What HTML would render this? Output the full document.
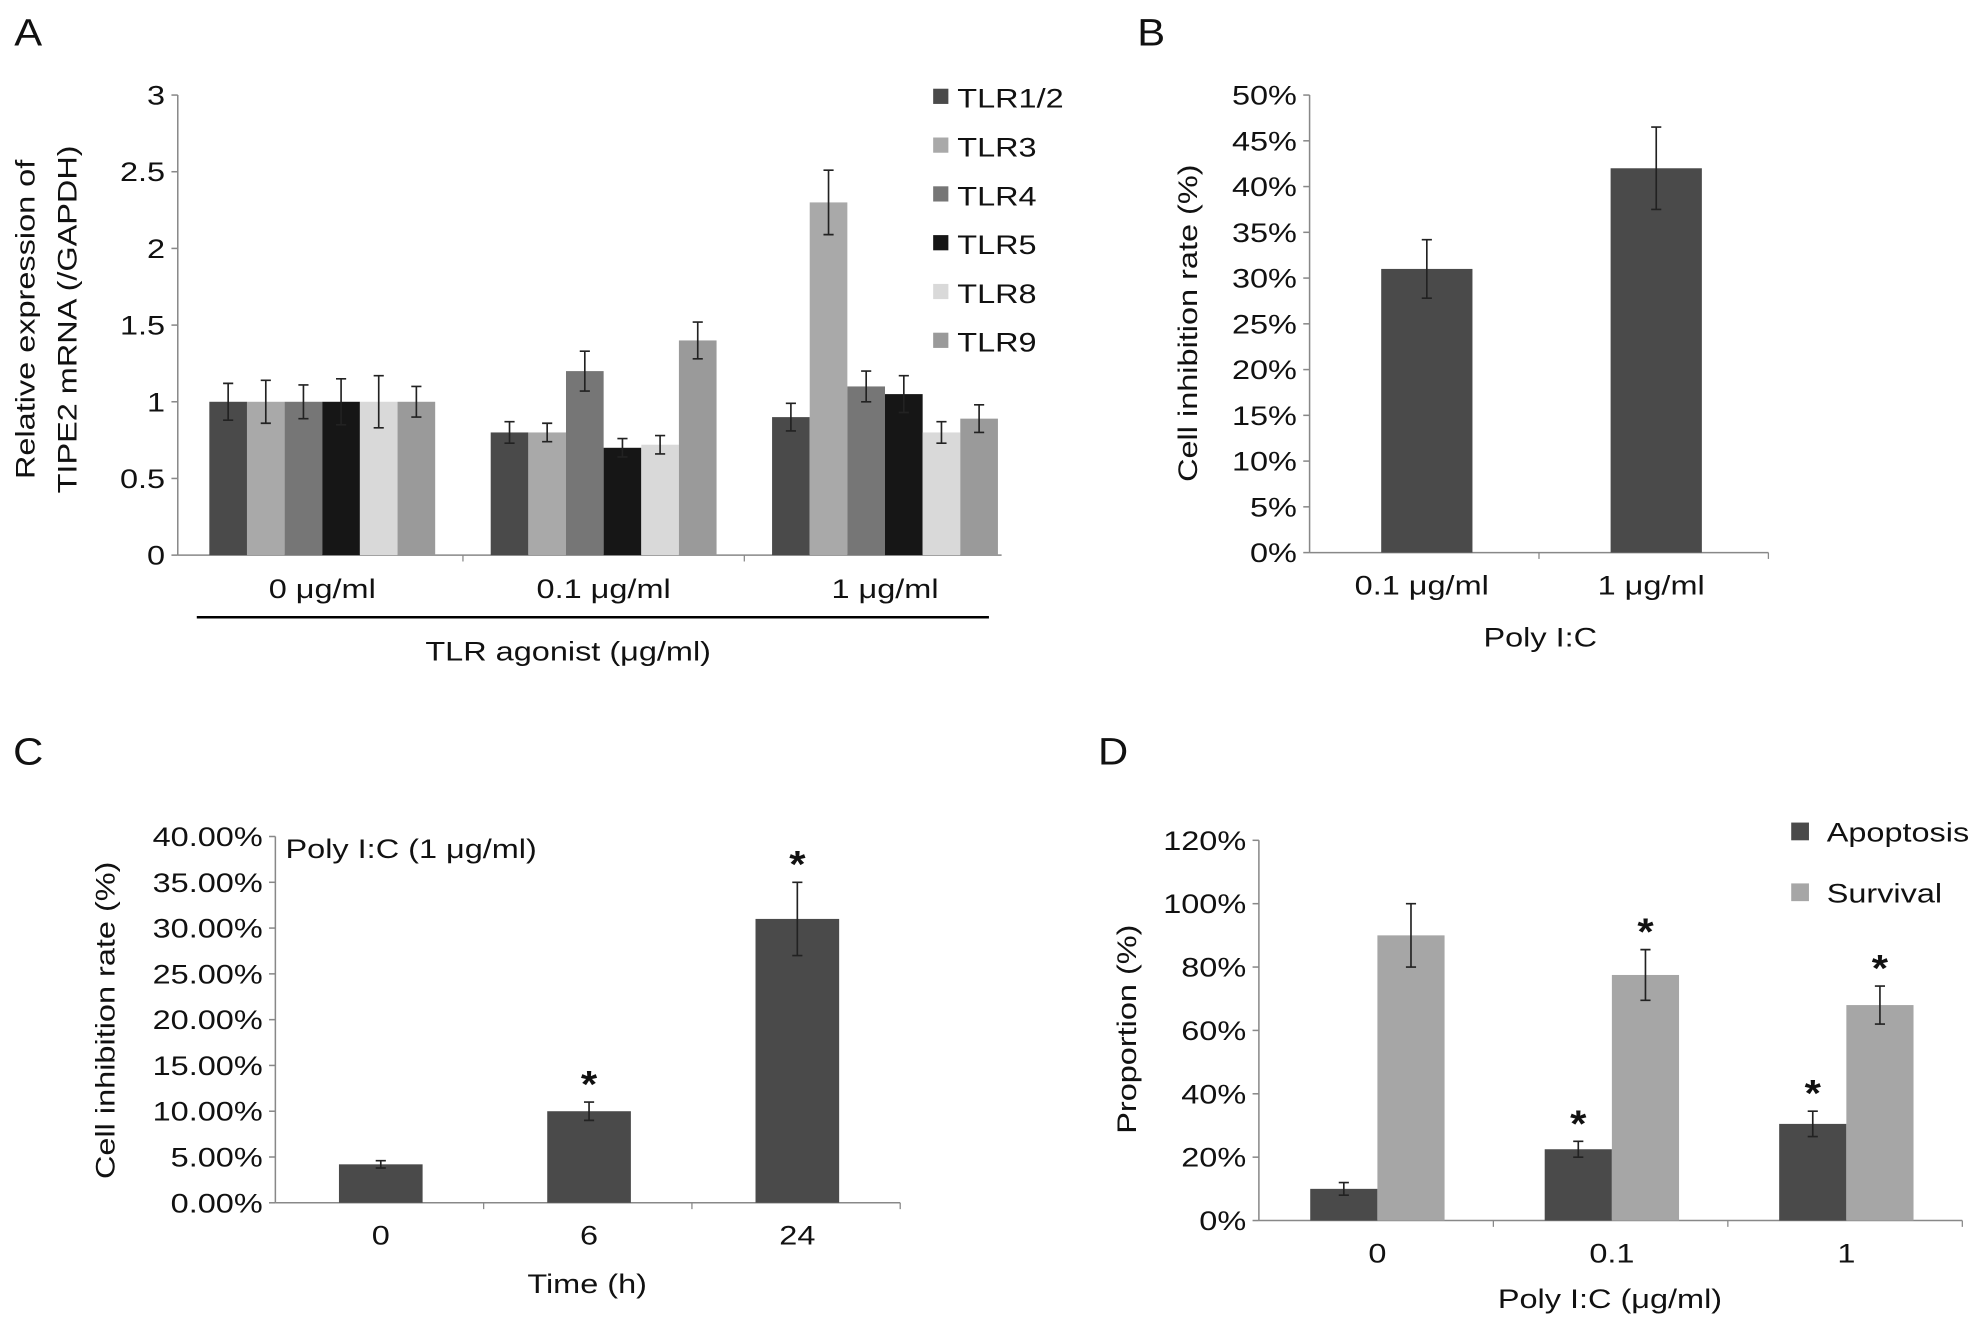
<!DOCTYPE html>
<html><head><meta charset="utf-8"><style>
html,body{margin:0;padding:0;background:#fff}
svg{display:block;font-family:"Liberation Sans",Arial,sans-serif}
</style></head><body>
<svg id="fig" width="1988" height="1327" viewBox="0 0 1568 1047" xmlns="http://www.w3.org/2000/svg">
<g id="root"></g>
</svg>
<script>
// Panel A data
const aCats = ['0 μg/ml', '0.1 μg/ml', '1 μg/ml'];
const aSeries = ['TLR1/2', 'TLR3', 'TLR4', 'TLR5', 'TLR8', 'TLR9'];
const aColors = ['#4a4a4a', '#a9a9a9', '#767676', '#161616', '#d9d9d9', '#9a9a9a'];
const aTLR12 = [1, 0.8, 0.9];
const aTLR3 = [1, 0.8, 2.3];
const aTLR4 = [1, 1.2, 1.1];
const aTLR5 = [1, 0.7, 1.05];
const aTLR8 = [1, 0.72, 0.8];
const aTLR9 = [1, 1.4, 0.89];
const aErr12 = [0.12, 0.07, 0.09];
const aErr3 = [0.14, 0.06, 0.21];
const aErr4 = [0.11, 0.13, 0.1];
const aErr5 = [0.15, 0.06, 0.12];
const aErr8 = [0.17, 0.06, 0.07];
const aErr9 = [0.1, 0.12, 0.09];
const aTicks = ['0', '0.5', '1', '1.5', '2', '2.5', '3'];
// Panel B data
const bCats = ['0.1 μg/ml', '1 μg/ml'];
const bValues = [31, 42];
const bErr = [3.2, 4.5];
const bTicks = ['0%', '5%', '10%', '15%', '20%', '25%', '30%', '35%', '40%', '45%', '50%'];
// Panel C data
const cCats = ['0', '6', '24'];
const cValues = [4.2, 10, 31];
const cErr = [0.4, 1, 4];
const cStars = [false, true, true];
const cTicks = ['0.00%', '5.00%', '10.00%', '15.00%', '20.00%', '25.00%', '30.00%', '35.00%', '40.00%'];
// Panel D data
const dCats = ['0', '0.1', '1'];
const dApoptosis = [10, 22.5, 30.5];
const dSurvival = [90, 77.5, 68];
const dErrA = [2, 2.5, 4];
const dErrS = [10, 8, 6];
const dStarA = [false, true, true];
const dStarS = [false, true, true];
const dTicks = ['0%', '20%', '40%', '60%', '80%', '100%', '120%'];

const NS = 'http://www.w3.org/2000/svg';
const root = document.getElementById('root');
const SX = 1.22;
function el(tag, attrs, parent, text) {
  const e = document.createElementNS(NS, tag);
  for (const k in attrs) e.setAttribute(k, attrs[k]);
  if (text !== undefined) e.textContent = text;
  (parent || root).appendChild(e);
  return e;
}
function grp(name) {
  const g = el('g', {});
  
  
  return g;
}
function txt(parent, x, y, s, size, anchor, name, rot, sx) {
  const k = sx === undefined ? SX : sx;
  const tr = `translate(${x},${y})` + (rot ? ` rotate(${rot})` : '') + ` scale(${k},1)`;
  const t = el('text', {x: 0, y: 0, 'font-size': size, 'text-anchor': anchor || 'middle', fill: '#111', transform: tr}, parent, s);
  
  
  return t;
}
function yAxis(g, x, y0, y1, ticks) {
  const n = ticks.length - 1;
  el('line', {x1: x, y1: y0, x2: x, y2: y1, stroke: '#888', 'stroke-width': 1.2}, g);
  ticks.forEach((t, i) => {
    const y = y0 - (y0 - y1) * i / n;
    el('line', {x1: x - 5, y1: y, x2: x, y2: y, stroke: '#888', 'stroke-width': 1.2}, g);
    txt(g, x - 10, y + 7.5, t, 21, 'end', 'y-tick-label');
  });
}
function errBar(g, cx, yTop, yBot) {
  const e = el('path', {d: `M${cx},${yTop}V${yBot}M${cx-4},${yTop}H${cx+4}M${cx-4},${yBot}H${cx+4}`, stroke: '#222', 'stroke-width': 1.3, fill: 'none'}, g);
  
  
}
function bar(g, x, w, y, y0, color, name) {
  const r = el('rect', {x: x, y: y, width: w, height: y0 - y, fill: color}, g);
  
  
}
function star(g, x, y) {
  const t = txt(g, x, y, '*', 30, 'middle', 'significance-star', 0, 1.1);
  t.setAttribute('font-weight', 'bold');
}

// ===== Panel A =====
(function () {
  const g = grp('panel-a');
  txt(g, 22, 36, 'A', 30, 'middle', 'panel-label-a', 0, 1.1);
  const X0 = 140, X1 = 790, Y0 = 438, Y1 = 75, vmax = 3;
  const sy = v => Y0 - (Y0 - Y1) * v / vmax;
  yAxis(g, X0, Y0, Y1, aTicks);
  el('line', {x1: X0, y1: Y0, x2: X1, y2: Y0, stroke: '#888', 'stroke-width': 1.2}, g);
  const band = 222, start = 143;
  const vals = [aTLR12, aTLR3, aTLR4, aTLR5, aTLR8, aTLR9];
  const errs = [aErr12, aErr3, aErr4, aErr5, aErr8, aErr9];
  const bw = 29.7;
  aCats.forEach((c, i) => {
    const cx = start + band * (i + 0.5);
    if (i < aCats.length - 1) el('line', {x1: start + band * (i + 1), y1: Y0, x2: start + band * (i + 1), y2: Y0 + 5, stroke: '#888'}, g);
    vals.forEach((s, j) => {
      const x = cx - bw * 3 + bw * j;
      bar(g, x, bw, sy(s[i]), Y0, aColors[j], 'bar-' + aSeries[j].toLowerCase().replace('/', '-') + '-' + i);
      errBar(g, x + bw / 2, sy(s[i] + errs[j][i]), sy(s[i] - errs[j][i]));
    });
    txt(g, cx, 472, c, 21, 'middle', 'x-tick-label');
  });
  el('line', {x1: 155, y1: 487, x2: 780, y2: 487, stroke: '#000', 'stroke-width': 2}, g);
  txt(g, 448, 521, 'TLR agonist (μg/ml)', 21, 'middle', 'x-axis-title');
  txt(g, 27, 252, 'Relative expression of', 21, 'middle', 'y-axis-title', -90);
  txt(g, 60, 252, 'TIPE2 mRNA (/GAPDH)', 21, 'middle', 'y-axis-title', -90);
  aSeries.forEach((s, j) => {
    const y = 77 + j * 38.5;
    const r = el('rect', {x: 736, y: y - 7, width: 12, height: 12, fill: aColors[j]}, g);
    
    
    txt(g, 755, y + 8, s, 21, 'start', 'legend-entry');
  });
})();

// ===== Panel B =====
(function () {
  const g = grp('panel-b');
  txt(g, 908, 36, 'B', 30, 'middle', 'panel-label-b', 0, 1.1);
  const X0 = 1033, X1 = 1395, Y0 = 436, Y1 = 75, vmax = 50;
  const sy = v => Y0 - (Y0 - Y1) * v / vmax;
  yAxis(g, X0, Y0, Y1, bTicks);
  el('line', {x1: X0, y1: Y0, x2: X1, y2: Y0, stroke: '#888', 'stroke-width': 1.2}, g);
  const band = (X1 - X0) / bCats.length, bw = 72;
  bCats.forEach((c, i) => {
    const cx = X0 + band * (i + 0.5) + 2;
    el('line', {x1: X0 + band * (i + 1), y1: Y0, x2: X0 + band * (i + 1), y2: Y0 + 5, stroke: '#888'}, g);
    bar(g, cx - bw / 2, bw, sy(bValues[i]), Y0, '#4a4a4a', 'bar-' + i);
    errBar(g, cx, sy(bValues[i] + bErr[i]), sy(bValues[i] - bErr[i]));
    txt(g, cx - 4, 469, c, 21, 'middle', 'x-tick-label');
  });
  txt(g, 1215, 510, 'Poly I:C', 21, 'middle', 'x-axis-title');
  txt(g, 944, 255, 'Cell inhibition rate (%)', 21, 'middle', 'y-axis-title', -90);
})();

// ===== Panel C =====
(function () {
  const g = grp('panel-c');
  txt(g, 22, 603, 'C', 30, 'middle', 'panel-label-c', 0, 1.1);
  const X0 = 217, X1 = 710, Y0 = 949, Y1 = 660, vmax = 40;
  const sy = v => Y0 - (Y0 - Y1) * v / vmax;
  yAxis(g, X0, Y0, Y1, cTicks);
  el('line', {x1: X0, y1: Y0, x2: X1, y2: Y0, stroke: '#888', 'stroke-width': 1.2}, g);
  const band = (X1 - X0) / cCats.length, bw = 66;
  cCats.forEach((c, i) => {
    const cx = X0 + band * (i + 0.5) + 1;
    el('line', {x1: X0 + band * (i + 1), y1: Y0, x2: X0 + band * (i + 1), y2: Y0 + 5, stroke: '#888'}, g);
    bar(g, cx - bw / 2, bw, sy(cValues[i]), Y0, '#4a4a4a', 'bar-' + c + 'h');
    errBar(g, cx, sy(cValues[i] + cErr[i]), sy(cValues[i] - cErr[i]));
    if (cStars[i]) star(g, cx, sy(cValues[i] + cErr[i]) - 4);
    txt(g, cx, 982, c, 21, 'middle', 'x-tick-label');
  });
  txt(g, 225, 677, 'Poly I:C (1 μg/ml)', 21, 'start', 'chart-annotation');
  txt(g, 463, 1020, 'Time (h)', 21, 'middle', 'x-axis-title');
  txt(g, 90, 805, 'Cell inhibition rate (%)', 21, 'middle', 'y-axis-title', -90);
})();

// ===== Panel D =====
(function () {
  const g = grp('panel-d');
  txt(g, 878, 603, 'D', 30, 'middle', 'panel-label-d', 0, 1.1);
  const X0 = 993, X1 = 1548, Y0 = 963, Y1 = 663, vmax = 120;
  const sy = v => Y0 - (Y0 - Y1) * v / vmax;
  yAxis(g, X0, Y0, Y1, dTicks);
  el('line', {x1: X0, y1: Y0, x2: X1, y2: Y0, stroke: '#888', 'stroke-width': 1.2}, g);
  const band = (X1 - X0) / dCats.length, bw = 53;
  dCats.forEach((c, i) => {
    const cx = X0 + band * (i + 0.5) + 1;
    el('line', {x1: X0 + band * (i + 1), y1: Y0, x2: X0 + band * (i + 1), y2: Y0 + 5, stroke: '#888'}, g);
    bar(g, cx - bw, bw, sy(dApoptosis[i]), Y0, '#4a4a4a', 'bar-apoptosis-' + c);
    errBar(g, cx - bw / 2, sy(dApoptosis[i] + dErrA[i]), sy(dApoptosis[i] - dErrA[i]));
    if (dStarA[i]) star(g, cx - bw / 2, sy(dApoptosis[i] + dErrA[i]) - 4);
    bar(g, cx, bw, sy(dSurvival[i]), Y0, '#a6a6a6', 'bar-survival-' + c);
    errBar(g, cx + bw / 2, sy(dSurvival[i] + dErrS[i]), sy(dSurvival[i] - dErrS[i]));
    if (dStarS[i]) star(g, cx + bw / 2, sy(dSurvival[i] + dErrS[i]) - 4);
    txt(g, cx, 996, c, 21, 'middle', 'x-tick-label');
  });
  txt(g, 1270, 1032, 'Poly I:C (μg/ml)', 21, 'middle', 'x-axis-title');
  txt(g, 896, 812, 'Proportion (%)', 21, 'middle', 'y-axis-title', -90);
  [['Apoptosis', '#4a4a4a', 656], ['Survival', '#a6a6a6', 704]].forEach(([n, col, y]) => {
    const r = el('rect', {x: 1413, y: y - 7, width: 14, height: 14, fill: col}, g);
    
    
    txt(g, 1441, y + 8, n, 21, 'start', 'legend-entry');
  });
})();
</script>
</body></html>
